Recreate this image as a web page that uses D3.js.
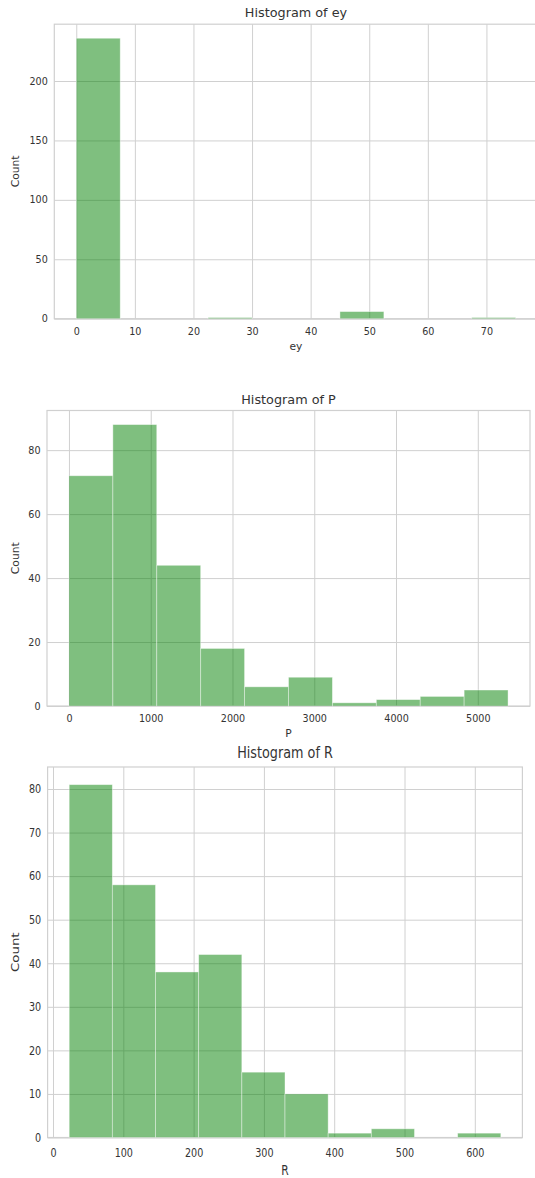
<!DOCTYPE html>
<html>
<head>
<meta charset="utf-8">
<script src="https://cdn.jsdelivr.net/npm/d3@7/dist/d3.min.js"></script>
<style>
  html, body { margin: 0; padding: 0; background: #fff; }
  svg { display: block; font-family: "DejaVu Sans", sans-serif; }
</style>
</head>
<body>
<svg id="chart" width="535" height="1178"></svg>
<script>
// Histogram counts per variable (10 equal-width bins over each range)
const eyCounts = [236, 0, 0, 1, 0, 0, 6, 0, 0, 1];
const eyRange = [0, 75];
const eyXTicks = [0, 10, 20, 30, 40, 50, 60, 70];
const eyYTicks = [0, 50, 100, 150, 200];

const pCounts = [72, 88, 44, 18, 6, 9, 1, 2, 3, 5];
const pRange = [0, 5370];
const pXTicks = [0, 1000, 2000, 3000, 4000, 5000];
const pYTicks = [0, 20, 40, 60, 80];

const rCounts = [81, 58, 38, 42, 15, 10, 1, 2, 0, 1];
const rRange = [23, 637];
const rXTicks = [0, 100, 200, 300, 400, 500, 600];
const rYTicks = [0, 10, 20, 30, 40, 50, 60, 70, 80];

const titles = ["Histogram of ey", "Histogram of P", "Histogram of R"];
const xLabels = ["ey", "P", "R"];
const yLabel = "Count";

// Panel boxes; the last panel is drawn vertically stretched (sy)
const panels = [
  { counts: eyCounts, range: eyRange, xt: eyXTicks, yt: eyYTicks,
    left: 54.3, right: 537.7, top: 24.2, bottom: 318.7, sy: 1, xlabY: 350, countX: 19 },
  { counts: pCounts, range: pRange, xt: pXTicks, yt: pYTicks,
    left: 47, right: 530, top: 410.5, bottom: 706, sy: 1, xlabY: 737, countX: 19 },
  { counts: rCounts, range: rRange, xt: rXTicks, yt: rYTicks,
    left: 47.6, right: 522.4, top: 767, bottom: 1137.5, sy: 1.25, xlabY: 1175, countX: 19 }
];

const textColor = "#333333";
const gridColor = "#d0d0d0";
const svg = d3.select("#chart");

panels.forEach((p, i) => {
  const [lo, hi] = p.range;
  const pad = (hi - lo) * 0.05;
  const ymax = d3.max(p.counts) * 1.05;
  const x = d3.scaleLinear().domain([lo - pad, hi + pad]).range([p.left, p.right]);
  const y = d3.scaleLinear().domain([0, ymax]).range([p.bottom, p.top]);
  const h = p.bottom - p.top;
  const w = p.right - p.left;
  const edges = d3.range(p.counts.length + 1).map(k => lo + (hi - lo) * k / p.counts.length);
  const bins = p.counts.map((c, k) => ({ x0: edges[k], x1: edges[k + 1], c }));

  const g = svg.append("g");

  // grid lines
  const gx = g.append("g").attr("transform", `translate(0,${p.bottom})`)
    .call(d3.axisBottom(x).tickValues(p.xt).tickSize(-h).tickFormat(""));
  const gy = g.append("g").attr("transform", `translate(${p.left},0)`)
    .call(d3.axisLeft(y).tickValues(p.yt).tickSize(-w).tickFormat(""));
  [gx, gy].forEach(a => {
    a.select(".domain").remove();
    a.selectAll("line").attr("stroke", gridColor).attr("stroke-width", 1);
  });

  // frame
  g.append("rect")
    .attr("x", p.left).attr("y", p.top).attr("width", w).attr("height", h)
    .attr("fill", "none").attr("stroke", gridColor).attr("stroke-width", 1.2);

  // bars (translucent fill and edge)
  g.append("g").selectAll("rect").data(bins.filter(b => b.c > 0)).join("rect")
    .attr("x", d => x(d.x0))
    .attr("width", d => x(d.x1) - x(d.x0))
    .attr("y", d => y(d.c))
    .attr("height", d => y(0) - y(d.c))
    .attr("fill", "#008000")
    .attr("fill-opacity", 0.5)
    .attr("stroke", "#ffffff")
    .attr("stroke-opacity", 0.5)
    .attr("stroke-width", 0.8);

  // tick labels
  const ax = g.append("g").attr("transform", `translate(0,${p.bottom})`)
    .call(d3.axisBottom(x).tickValues(p.xt).tickSize(0).tickPadding(9).tickFormat(d3.format("d")));
  const ay = g.append("g").attr("transform", `translate(${p.left},0)`)
    .call(d3.axisLeft(y).tickValues(p.yt).tickSize(0).tickPadding(6.5).tickFormat(d3.format("d")));
  [ax, ay].forEach(a => {
    a.select(".domain").remove();
    a.selectAll("text")
      .attr("fill", textColor)
      .style("font-size", "9.6px")
      .style("font-family", "DejaVu Sans, sans-serif");
    if (p.sy !== 1) a.selectAll("text").attr("transform", `scale(1,${p.sy})`);
  });

  const cx = (p.left + p.right) / 2;

  // title
  g.append("text")
    .attr("transform", `translate(${cx},${p.top - 7 * p.sy}) scale(1,${p.sy})`)
    .attr("text-anchor", "middle")
    .attr("fill", textColor)
    .style("font-size", "12.8px")
    .text(titles[i]);

  // axis labels
  g.append("text")
    .attr("transform", `translate(${cx},${p.xlabY}) scale(1,${p.sy})`)
    .attr("text-anchor", "middle")
    .attr("fill", textColor)
    .style("font-size", "10.7px")
    .text(xLabels[i]);

  g.append("text")
    .attr("transform", `translate(${p.countX},${(p.top + p.bottom) / 2}) scale(1,${p.sy}) rotate(-90)`)
    .attr("text-anchor", "middle")
    .attr("fill", textColor)
    .style("font-size", "10.7px")
    .text(yLabel);
});
</script>
</body>
</html>
